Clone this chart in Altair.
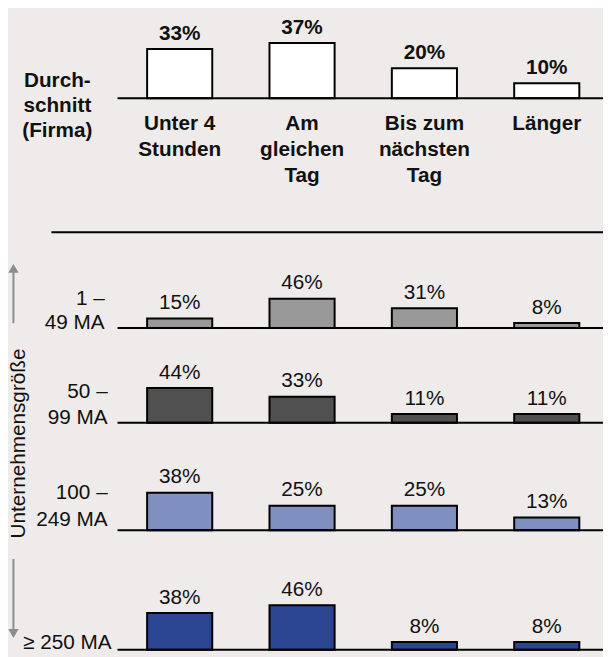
import altair as alt
import pandas as pd

# ---- data ----
categories = ["Unter 4\nStunden", "Am\ngleichen\nTag", "Bis zum\nnächsten\nTag", "Länger"]
avg_label = "Durch-\nschnitt\n(Firma)"
avg_values = [33, 37, 20, 10]

group_labels = ["1 –\n49 MA", "50 –\n99 MA", "100 –\n249 MA", "≥ 250 MA"]
values_1_49 = [15, 46, 31, 8]
values_50_99 = [44, 33, 11, 11]
values_100_249 = [38, 25, 25, 13]
values_250 = [38, 46, 8, 8]
axis_title = "Unternehmensgröße"

# ---- style ----
FONT = "Liberation Sans"
FS = 21
BG = "#eeebea"
TXT = "#111111"
ARROW = "#8c8c8c"
W = 603
H = 649

xscale = alt.Scale(domain=categories, range=[111, 609], paddingInner=0.4677, paddingOuter=0.2419)
X = alt.X("cat:N", scale=xscale, axis=None, sort=categories)
one = pd.DataFrame({"z": [0]})


def make_df(vals):
    return pd.DataFrame({"cat": categories, "val": vals})


def panel(vals, color, base_px, px_per_pct, bold=False, extras=()):
    yscale = alt.Scale(domain=[(base_px - H) / px_per_pct, base_px / px_per_pct], nice=False, zero=False)
    Y = alt.Y("val:Q", scale=yscale, axis=None)
    base = alt.Chart(make_df(vals)).encode(x=X, y=Y)
    bars = base.mark_bar(fill=color, stroke="black", strokeWidth=2).encode(y2=alt.datum(0))
    labels = base.transform_calculate(lab="datum.val + '%'").mark_text(
        baseline="alphabetic", dy=-9.5, font=FONT, fontSize=FS,
        fontWeight="bold" if bold else "normal", color=TXT,
    ).encode(text="lab:N")
    rule = alt.Chart(one).mark_rule(stroke="black", strokeWidth=2).encode(
        x=alt.value(111), x2=alt.value(W), y=alt.datum(0)
    )
    return alt.layer(bars, labels, rule, *extras)


def row_label(text, x, dy, lh):
    return alt.Chart(pd.DataFrame({"t": [text]})).mark_text(
        align="right", baseline="alphabetic", lineBreak="\n", lineHeight=lh,
        dy=dy, font=FONT, fontSize=FS, color=TXT,
    ).encode(x=alt.value(x), y=alt.datum(0), text="t:N")


cat_labels = alt.Chart(make_df(avg_values)).mark_text(
    baseline="alphabetic", lineBreak="\n", lineHeight=26, dy=32.5,
    font=FONT, fontSize=FS, fontWeight="bold", color=TXT,
).encode(x=X, y=alt.datum(0), text="cat:N")

avg_text = alt.Chart(pd.DataFrame({"t": [avg_label]})).mark_text(
    align="center", baseline="alphabetic", lineBreak="\n", lineHeight=25, dy=-10.8,
    font=FONT, fontSize=FS, fontWeight="bold", color=TXT,
).encode(x=alt.value(50), y=alt.datum(0), text="t:N")

separator = alt.Chart(one).mark_rule(stroke="black", strokeWidth=2).encode(
    x=alt.value(44), x2=alt.value(W), y=alt.value(223)
)

arrow_up_line = alt.Chart(one).mark_rule(stroke=ARROW, strokeWidth=2).encode(
    x=alt.value(5.5), y=alt.value(261), y2=alt.value(315))
arrow_up_head = alt.Chart(one).mark_point(
    shape="triangle-up", filled=True, fill=ARROW, size=110, strokeWidth=0, opacity=1
).encode(x=alt.value(5.5), y=alt.value(259.5))
arrow_dn_line = alt.Chart(one).mark_rule(stroke=ARROW, strokeWidth=2).encode(
    x=alt.value(5.5), y=alt.value(554), y2=alt.value(627))
arrow_dn_head = alt.Chart(one).mark_point(
    shape="triangle-down", filled=True, fill=ARROW, size=110, strokeWidth=0, opacity=1
).encode(x=alt.value(5.5), y=alt.value(629.5))

title_text = alt.Chart(pd.DataFrame({"t": [axis_title]})).mark_text(
    angle=270, align="center", baseline="alphabetic", font=FONT, fontSize=FS, color=TXT,
).encode(x=alt.value(17.5), y=alt.value(437), text="t:N")

p0 = panel(avg_values, "white", 87, 1.51, bold=True, extras=(cat_labels, avg_text, separator))
p1 = panel(values_1_49, "#999999", 320, 0.645,
           extras=(row_label(group_labels[0], 98, -23.8, 25), arrow_up_line, arrow_up_head))
p2 = panel(values_50_99, "#505050", 416, 0.8,
           extras=(row_label(group_labels[1], 101, -24.8, 25.6), title_text))
p3 = panel(values_100_249, "#7f8fbf", 525, 1.0,
           extras=(row_label(group_labels[2], 101, -32.2, 27.7),))
p4 = panel(values_250, "#2b4592", 646, 0.98,
           extras=(row_label(group_labels[3], 105, -0.5, 25), arrow_dn_line, arrow_dn_head))

chart = alt.layer(p0, p1, p2, p3, p4).resolve_scale(y="independent").properties(
    width=W,
    height=H,
    background=BG,
    padding=0,
    autosize=alt.AutoSizeParams(type="none"),
).configure_view(strokeWidth=0)

chart.save("out.html", embed_options={"renderer": "svg", "actions": False})
